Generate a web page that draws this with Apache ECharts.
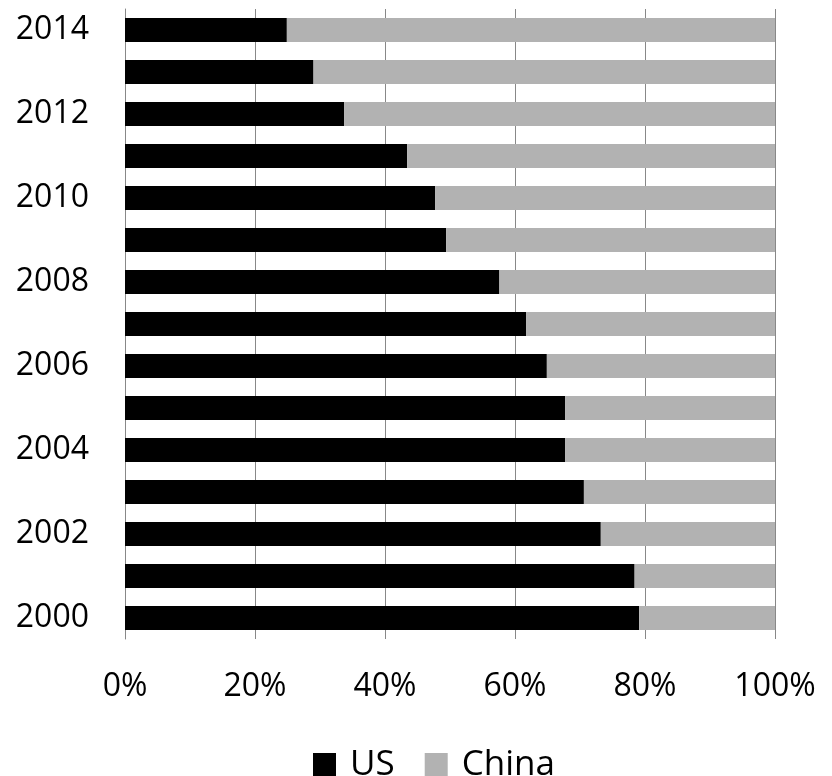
<!DOCTYPE html>
<html>
<head>
<meta charset="utf-8">
<script src="https://cdn.jsdelivr.net/npm/echarts@6/dist/echarts.min.js"></script>
<style>html,body{margin:0;padding:0;background:#fff}#c{width:832px;height:776px}</style>
</head>
<body>
<div id="c"></div>
<script>
var years = ['2000','2001','2002','2003','2004','2005','2006','2007','2008','2009','2010','2011','2012','2013','2014'];
var usShare = [79.1, 78.4, 73.2, 70.6, 67.7, 67.7, 64.9, 61.7, 57.6, 49.4, 47.7, 43.4, 33.7, 29.0, 24.9];
var chinaShare = [20.9, 21.6, 26.8, 29.4, 32.3, 32.3, 35.1, 38.3, 42.4, 50.6, 52.3, 56.6, 66.3, 71.0, 75.1];
var xTicks = [0, 20, 40, 60, 80, 100];

var FONT = "'Open Sans', 'Noto Sans', sans-serif";
var chart = echarts.init(document.getElementById('c'), null, {renderer: 'canvas'});
chart.setOption({
  animation: false,
  backgroundColor: '#ffffff',
  grid: {left: 125, right: 57, top: 9, bottom: 137},
  legend: {
    data: ['US', 'China'],
    left: 308,
    top: 740,
    itemWidth: 23,
    itemHeight: 24,
    itemGap: 30,
    icon: 'rect',
    textStyle: {fontFamily: FONT, fontSize: 35, color: '#000', lineHeight: 40, padding: [0, 0, 0, 9]}
  },
  xAxis: {
    type: 'value',
    min: xTicks[0],
    max: xTicks[xTicks.length - 1],
    interval: xTicks[1] - xTicks[0],
    axisLine: {show: false},
    axisTick: {show: false},
    splitLine: {show: true, lineStyle: {color: '#888888', width: 1}},
    axisLabel: {formatter: '{value}%', fontFamily: FONT, fontSize: 32, color: '#000', margin: 32}
  },
  yAxis: {
    type: 'category',
    data: years,
    axisLine: {show: true, lineStyle: {color: '#888888', width: 1}},
    axisTick: {show: false},
    axisLabel: {interval: 1, fontFamily: FONT, fontSize: 32, color: '#000', margin: 36}
  },
  series: [
    {name: 'US', type: 'bar', stack: 'total', data: usShare, barWidth: 24, itemStyle: {color: '#000000'}},
    {name: 'China', type: 'bar', stack: 'total', data: chinaShare, barWidth: 24, itemStyle: {color: '#b2b2b2'}}
  ]
});
</script>
</body>
</html>
